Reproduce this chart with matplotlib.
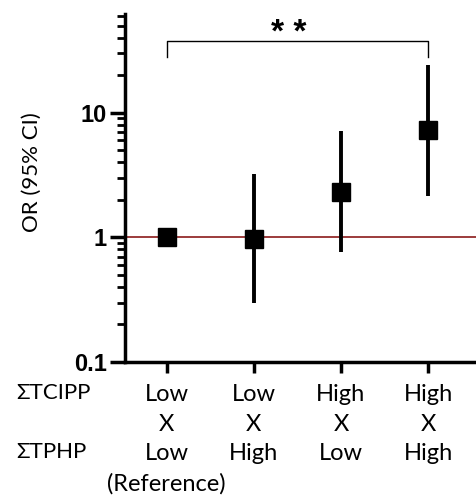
import numpy as np
import matplotlib.pyplot as plt
from matplotlib.ticker import LogLocator, NullFormatter, FixedLocator

# data
groups = ['Low\nX\nLow\n(Reference)', 'Low\nX\nHigh', 'High\nX\nLow', 'High\nX\nHigh']
odds = [1.0, 0.97, 2.31, 7.3]
ci_low = [1.0, 0.30, 0.77, 2.15]
ci_high = [1.0, 3.2, 7.1, 24.2]

x = np.arange(len(groups))
odds = np.array(odds)
yerr = np.array([odds - np.array(ci_low), np.array(ci_high) - odds])

fig = plt.figure(figsize=(4.76, 4.97), dpi=100)
ax = fig.add_axes([0.2626, 0.2716, 0.7374, 0.7002])

ax.axhline(1, color='#8b1a1a', lw=1.2, zorder=1)
ax.errorbar(x, odds, yerr=yerr, fmt='s', color='black', ms=13, elinewidth=2.8,
            capsize=0, zorder=3)

ax.set_yscale('log')
ax.set_ylim(0.1, 62)
ax.set_xlim(-0.48, 3.55)

ax.yaxis.set_major_locator(FixedLocator([0.1, 1, 10]))
ax.set_yticklabels(['0.1', '1', '10'], fontsize=17, fontweight='bold',
                   family='Liberation Sans')
ax.yaxis.set_minor_locator(LogLocator(base=10, subs=np.arange(2, 10)))
ax.yaxis.set_minor_formatter(NullFormatter())

ax.set_xticks(x)
ax.set_xticklabels(groups, fontsize=17, family='Lato', linespacing=1.5)

ax.tick_params(axis='y', which='major', length=11, width=2.5, pad=2)
ax.tick_params(axis='y', which='minor', length=6, width=2)
ax.tick_params(axis='x', which='major', length=8, width=2.5, pad=8)

for s in ['top', 'right']:
    ax.spines[s].set_visible(False)
ax.spines['left'].set_linewidth(2.5)
ax.spines['bottom'].set_linewidth(2.5)

ax.set_ylabel('OR (95% CI)', fontsize=16, family='Lato')
ax.yaxis.set_label_coords(-0.236, 0.546)

# significance bracket
ax.plot([0, 0, 3, 3], [28, 37.8, 37.8, 28], color='black', lw=1)
ax.text(1.4, 43, '* *', ha='center', va='center', fontsize=24,
        fontweight='bold', family='Liberation Sans')

fig.text(16 / 476, 1 - 393 / 497, 'ΣTCIPP', fontsize=16, family='Lato', va='center')
fig.text(16 / 476, 1 - 452 / 497, 'ΣTPHP', fontsize=16, family='Lato', va='center')

fig.savefig('out.png', dpi=100)
